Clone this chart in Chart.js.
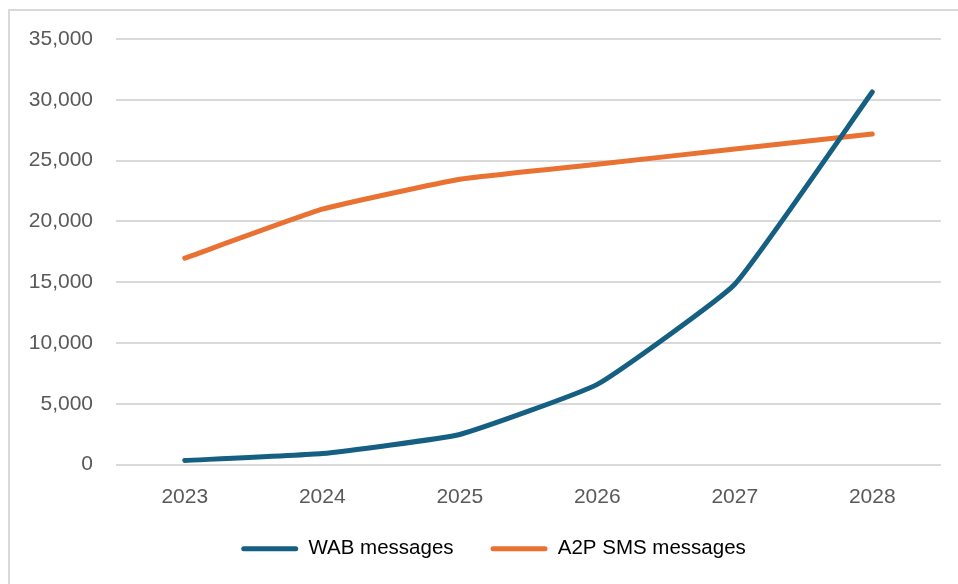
<!DOCTYPE html>
<html>
<head>
<meta charset="utf-8">
<script src="https://cdn.jsdelivr.net/npm/chart.js@4.4.1/dist/chart.umd.min.js"></script>
<style>
    html, body { margin: 0; padding: 0; background: #fff; overflow: hidden; }
    #frame { position: absolute; left: 8px; top: 9px; width: 1000px; height: 1000px; border: 2px solid #d9d9d9; }
    #wrap { position: absolute; left: 0; top: 0; width: 958px; height: 584px; }
</style>
</head>
<body>
<div id="frame"></div>
<div id="wrap"><canvas id="grafico"></canvas></div>
<script>
// valores
const anos = ["2023", "2024", "2025", "2026", "2027", "2028"];
const wabMensagens = [330, 900, 2470, 6590, 14830, 30640];
const smsMensagens = [16970, 21000, 23470, 24700, 25950, 27180];
const rotulos = ["WAB messages", "A2P SMS messages"];
const cores = ["#156082", "#E97132"];

// empurra a legenda para a posicao do original
const moverLegenda = {
    id: 'moverLegenda',
    afterLayout(chart) {
        const lg = chart.legend;
        lg.left += 23; lg.right += 23;
        lg.top -= 13; lg.bottom -= 13;
    }
};

window.onload = function () {
    desenharLinhas();
}

function desenharLinhas() {
    const ctx = document.getElementById('grafico').getContext('2d');
    const myChart = new Chart(ctx, {
        type: 'line',
        plugins: [moverLegenda],
        data: {
            labels: anos,
            datasets: [{
                label: rotulos[0],
                data: wabMensagens,
                borderColor: cores[0],
                backgroundColor: cores[0],
            }, {
                label: rotulos[1],
                data: smsMensagens,
                borderColor: cores[1],
                backgroundColor: cores[1],
            }]
        },
        options: {
            responsive: true,
            maintainAspectRatio: false,
            animation: false,
            elements: {
                line: { borderWidth: 5, tension: 0.12, borderCapStyle: 'round', borderJoinStyle: 'round' },
                point: { radius: 0, hoverRadius: 0 }
            },
            layout: {
                padding: { left: 0, right: 17, top: 39, bottom: 2 }
            },
            plugins: {
                tooltip: { enabled: false },
                legend: {
                    position: 'bottom',
                    labels: {
                        boxWidth: 57,
                        boxHeight: 5,
                        padding: 37,
                        color: '#595959',
                        font: { family: 'Liberation Sans', size: 20.5 },
                        generateLabels: function (chart) {
                            return chart.data.datasets.map((ds, i) => ({
                                text: ds.label,
                                fillStyle: ds.borderColor,
                                strokeStyle: ds.borderColor,
                                lineWidth: 0,
                                borderRadius: 2.5,
                                datasetIndex: i
                            }));
                        }
                    }
                }
            },
            scales: {
                x: {
                    offset: true,
                    grid: { display: false, drawTicks: false },
                    border: { display: false },
                    ticks: {
                        padding: 20,
                        color: '#595959',
                        font: { family: 'Liberation Sans', size: 21 }
                    },
                    afterFit: function (scale) { scale.height = 50; }
                },
                y: {
                    min: 0,
                    max: 35000,
                    grid: { color: '#d9d9d9', lineWidth: 2, drawTicks: false },
                    border: { display: false },
                    ticks: {
                        stepSize: 5000,
                        padding: 23,
                        color: '#595959',
                        font: { family: 'Liberation Sans', size: 21 },
                        callback: v => v.toLocaleString('en-US')
                    },
                    afterFit: function (scale) { scale.width = 116; }
                }
            }
        }
    });
}
</script>
</body>
</html>
